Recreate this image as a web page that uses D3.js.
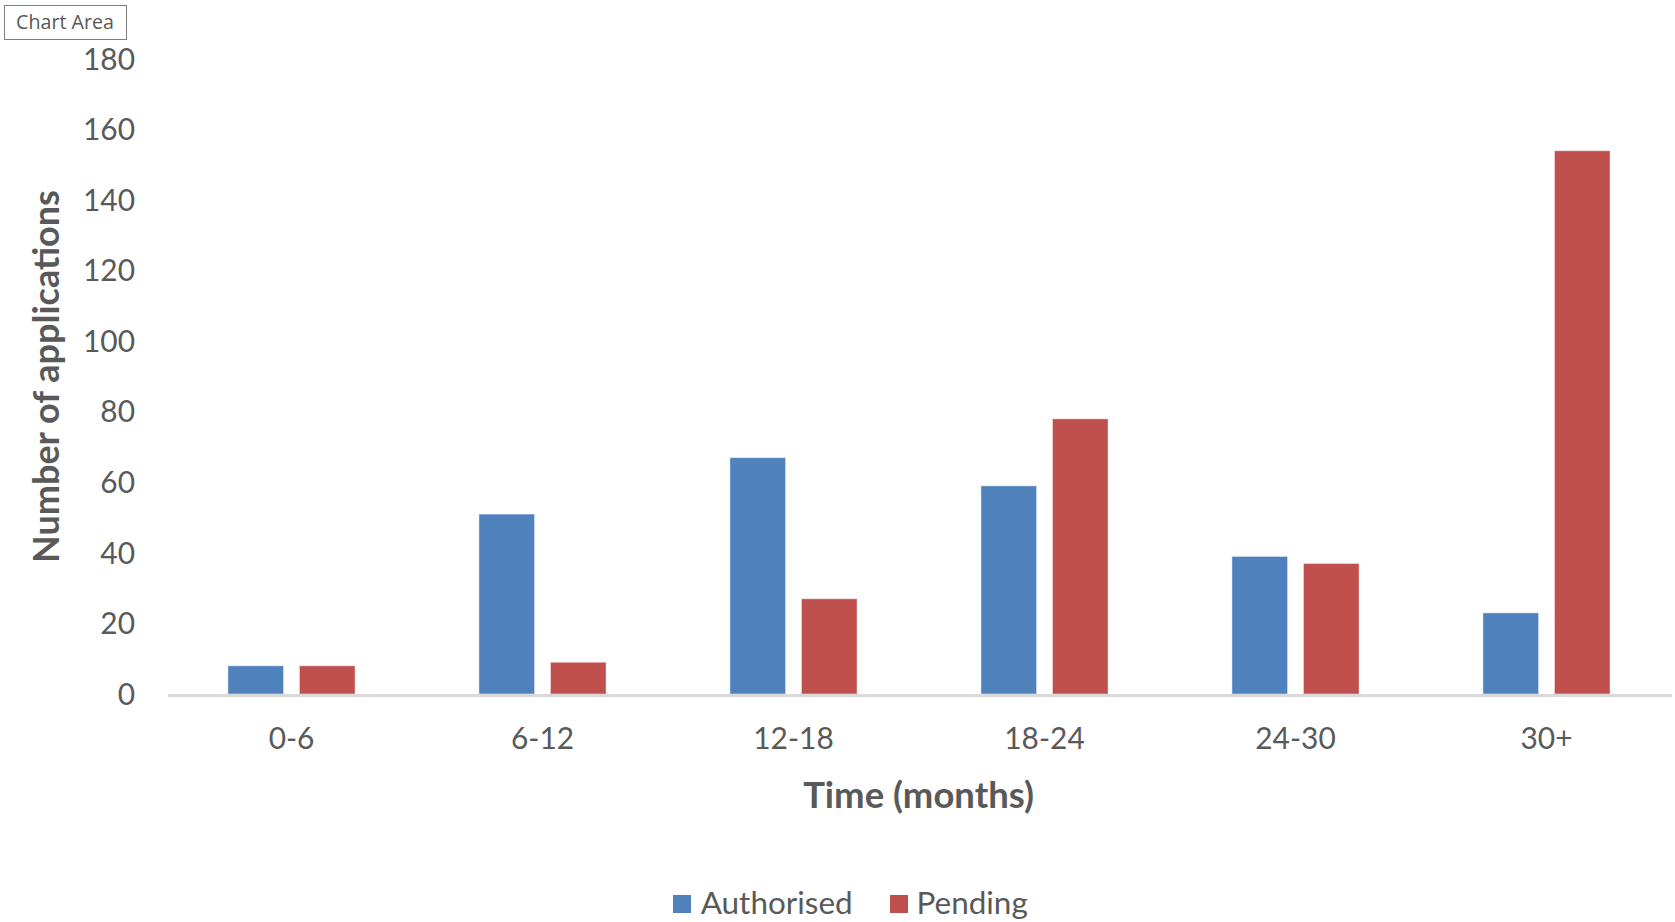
<!DOCTYPE html>
<html>
<head>
<meta charset="utf-8">
<script src="https://cdn.jsdelivr.net/npm/d3@7"></script>
<style>
  html, body { margin: 0; padding: 0; background: #fff; }
  svg { display: block; }
</style>
</head>
<body>
<script>
// ---- data ----
const categories = ["0-6", "6-12", "12-18", "18-24", "24-30", "30+"];
const seriesNames = ["Authorised", "Pending"];
const authorised = [8, 51, 67, 59, 39, 23];
const pending = [8, 9, 27, 78, 37, 154];
const yTicks = [0, 20, 40, 60, 80, 100, 120, 140, 160, 180];
const yTitle = "Number of applications";
const xTitle = "Time (months)";

const W = 1675, H = 922;
const colors = { "Authorised": "#4F81BD", "Pending": "#C0504D" };
const textColor = "#595959";
const font = "Lato, 'Open Sans', sans-serif";

const svg = d3.select("body").append("svg").attr("width", W).attr("height", H);

const x0 = d3.scaleBand().domain(categories).range([166, 1672]).padding(0);
const x1 = d3.scaleBand().domain(seriesNames).range([0, x0.bandwidth()])
  .paddingInner(0.222).paddingOuter(0.866);
const y = d3.scaleLinear().domain([0, 180]).range([694, 59]);

// helper to fit font size to a target width
function fit(sel, target) {
  const w = sel.node().getComputedTextLength();
  const fs = parseFloat(sel.attr("font-size"));
  sel.attr("font-size", fs * target / w);
  return fs * target / w;
}

// measure tick font
const probe = svg.append("text").attr("font-family", font).attr("font-size", 30).text("180");
const tickFs = fit(probe, 52);
probe.remove();
const probe2 = svg.append("text").attr("font-family", font).attr("font-size", 30).text("Authorised");
const legendFs = fit(probe2, 152);
probe2.remove();

// y axis labels
const yAxis = d3.axisLeft(y).tickValues(yTicks).tickSize(0).tickPadding(0);
const gy = svg.append("g").attr("transform", "translate(135,0)").call(yAxis);
gy.select(".domain").remove();
gy.selectAll("text").attr("font-family", font).attr("font-size", tickFs)
  .attr("fill", textColor).attr("dy", "0.34em").attr("x", 0);

// bars
const rows = categories.map((c, i) => ({ cat: c, vals: [
  { s: "Authorised", v: authorised[i] }, { s: "Pending", v: pending[i] }] }));
const groups = svg.append("g").selectAll("g").data(rows).join("g")
  .attr("transform", d => `translate(${x0(d.cat)},0)`);
groups.selectAll("rect").data(d => d.vals).join("rect")
  .attr("x", d => x1(d.s))
  .attr("width", x1.bandwidth())
  .attr("y", d => y(d.v))
  .attr("height", d => y(0) - y(d.v))
  .attr("fill", d => colors[d.s])
  .attr("stroke", "rgba(255,255,255,0.45)")
  .attr("stroke-width", 1);

// baseline
svg.append("line").attr("x1", x0.range()[0] + 2).attr("x2", x0.range()[1])
  .attr("y1", y(0) + 1.5).attr("y2", y(0) + 1.5)
  .attr("stroke", "#d9d9d9").attr("stroke-width", 3);

// x axis labels
const xAxis = d3.axisBottom(x0).tickSize(0).tickPadding(0);
const gx = svg.append("g").attr("transform", "translate(0,739)").call(xAxis);
gx.select(".domain").remove();
gx.selectAll("text").attr("font-family", font).attr("font-size", tickFs)
  .attr("fill", textColor).attr("dy", "0.34em").attr("y", 0);

// axis titles
const xt = svg.append("text").attr("font-family", font).attr("font-weight", "bold")
  .attr("font-size", 30).attr("fill", textColor).attr("text-anchor", "middle")
  .attr("x", 918.6).attr("y", 796).attr("dy", "0.34em").text(xTitle);
fit(xt, 231);

const yt = svg.append("text").attr("font-family", font).attr("font-weight", "bold")
  .attr("font-size", 30).attr("fill", textColor).attr("text-anchor", "middle")
  .attr("transform", "translate(59,376.5) rotate(-90)").text(yTitle);
fit(yt, 373);

// legend
const legend = svg.append("g");
const legendItems = [
  { s: "Authorised", sx: 673, tx: 700.7 },
  { s: "Pending", sx: 890, tx: 916.5 }
];
legendItems.forEach(it => {
  legend.append("rect").attr("x", it.sx).attr("y", 895).attr("width", 18).attr("height", 18)
    .attr("fill", colors[it.s]);
  legend.append("text").attr("x", it.tx).attr("y", 914)
    .attr("font-family", font).attr("font-size", legendFs).attr("fill", textColor).text(it.s);
});

// "Chart Area" tooltip
svg.append("rect").attr("x", 4.5).attr("y", 5.5).attr("width", 122).attr("height", 34)
  .attr("fill", "#fff").attr("stroke", "#7f7f7f").attr("stroke-width", 1);
const ca = svg.append("text").attr("x", 65).attr("y", 22.5).attr("dy", "0.35em")
  .attr("text-anchor", "middle").attr("font-family", "'Open Sans', 'Noto Sans', sans-serif")
  .attr("font-size", 17).attr("fill", "#595959").text("Chart Area");
fit(ca, 98);
</script>
</body>
</html>
